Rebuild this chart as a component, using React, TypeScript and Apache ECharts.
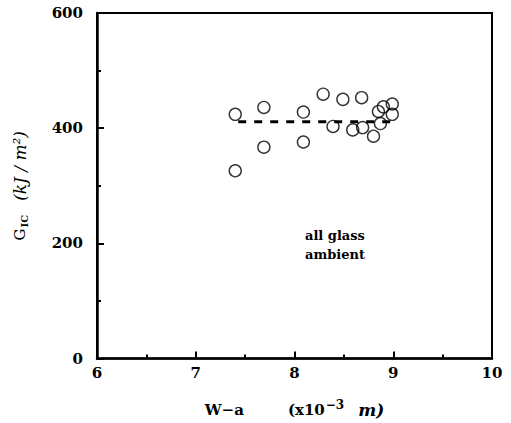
import React, { useEffect, useRef } from "react";
import * as echarts from "echarts";

const xValues = [7.40, 7.40, 7.69, 7.69, 8.09, 8.09, 8.29, 8.49, 8.68, 8.39, 8.59, 8.69, 8.80, 8.85, 8.90, 8.87, 8.99, 8.99];
const yValues = [424, 326, 436, 367, 428, 376, 459, 450, 453, 403, 397, 401, 386, 429, 437, 408, 442, 424];
const fitX = [7.43, 8.98];
const fitY = [411, 411];
const xTicks = [6, 7, 8, 9, 10];
const yTicks = [0, 200, 400, 600];
const noteLines = ["all glass", "ambient"];

const SERIF = "'DejaVu Serif', 'Liberation Serif', serif";

export default function App() {
  const ref = useRef<HTMLDivElement>(null);
  useEffect(() => {
    if (!ref.current) return;
    const chart = echarts.init(ref.current, undefined, { renderer: "svg" });
    const pts = xValues.map((x, i) => [x, yValues[i]]);
    const fit = fitX.map((x, i) => [x, fitY[i]]);
    chart.setOption({
      animation: false,
      backgroundColor: "#fff",
      grid: {
        left: 97,
        right: 19,
        top: 13,
        bottom: 60,
        show: true,
        borderColor: "#000",
        borderWidth: 2,
        backgroundColor: "transparent",
      },
      xAxis: {
        type: "value",
        min: xTicks[0],
        max: xTicks[xTicks.length - 1],
        interval: 1,
        axisLine: { show: true, lineStyle: { color: "#000", width: 2.5 } },
        axisTick: { show: true, inside: true, length: 7, lineStyle: { color: "#000", width: 2 } },
        minorTick: { show: true, splitNumber: 2, length: 4, lineStyle: { color: "#000", width: 2 } },
        splitLine: { show: false },
        axisLabel: {
          color: "#000",
          fontFamily: SERIF,
          fontWeight: "bold",
          fontSize: 15,
          margin: 7,
        },
        name: "{w|W−a}{a|(x10}{sup|−3}{i|m)}",
        nameLocation: "middle",
        nameGap: 40,
        nameTextStyle: {
          rich: {
            w: { fontFamily: SERIF, fontWeight: "bold", fontSize: 15, color: "#000", padding: [0, 44, 0, 0] },
            a: { fontFamily: SERIF, fontWeight: "bold", fontSize: 15, color: "#000" },
            sup: { fontFamily: SERIF, fontWeight: "bold", fontSize: 12, color: "#000", verticalAlign: "top", padding: [0, 14, 10, 1] },
            i: { fontFamily: SERIF, fontStyle: "italic", fontWeight: "bold", fontSize: 17, color: "#000" },
          },
        },
      },
      yAxis: {
        type: "value",
        min: yTicks[0],
        max: yTicks[yTicks.length - 1],
        interval: 200,
        axisLine: { show: true, lineStyle: { color: "#000", width: 2.5 } },
        axisTick: { show: true, inside: true, length: 7, lineStyle: { color: "#000", width: 2 } },
        minorTick: { show: true, splitNumber: 2, length: 4, lineStyle: { color: "#000", width: 2 } },
        splitLine: { show: false },
        axisLabel: {
          color: "#000",
          fontFamily: SERIF,
          fontWeight: "bold",
          fontSize: 15,
          margin: 14,
        },
        name: "{g|G}{sub|IC}{i|(kJ / m²)}",
        nameLocation: "middle",
        nameRotate: 90,
        nameGap: 68,
        nameTextStyle: {
          rich: {
            g: { fontFamily: SERIF, fontSize: 15, color: "#000" },
            sub: { fontFamily: SERIF, fontWeight: "bold", fontSize: 10, color: "#000", padding: [8, 14, 0, 1] },
            i: { fontFamily: SERIF, fontStyle: "italic", fontSize: 17, color: "#000" },
          },
        },
      },
      graphic: [
        {
          type: "text",
          left: 305,
          top: 226,
          style: {
            text: noteLines.join("\n"),
            font: "bold 13px 'DejaVu Serif', serif",
            lineHeight: 19,
            fill: "#000",
          },
        },
      ],
      series: [
        {
          type: "line",
          data: fit,
          symbol: "none",
          lineStyle: { color: "#000", width: 3, type: [8, 8] },
          z: 2,
        },
        {
          type: "scatter",
          data: pts,
          symbol: "circle",
          symbolSize: 12,
          itemStyle: { color: "rgba(255,255,255,0)", borderColor: "#000", borderWidth: 1.4 },
          z: 3,
        },
      ],
    });
    return () => chart.dispose();
  }, []);
  return <div ref={ref} style={{ width: 511, height: 423, position: "absolute", left: 0, top: 0 }} />;
}
